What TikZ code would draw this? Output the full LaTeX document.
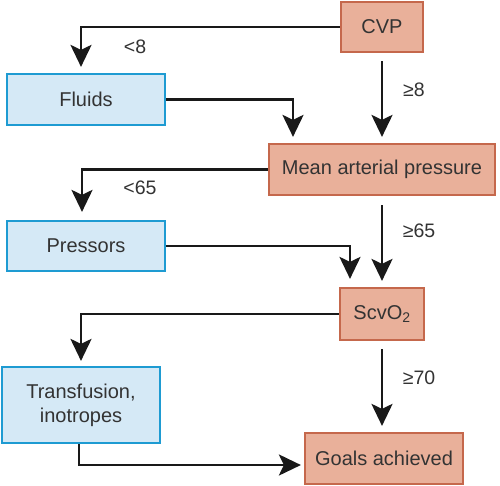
\documentclass[tikz,border=0pt]{standalone}
\usepackage{fontspec}
\setmainfont{Liberation Sans}
\usepackage{tikz}
\usetikzlibrary{arrows.meta, positioning}
\definecolor{salmonfill}{HTML}{E9B09A}
\definecolor{salmonline}{HTML}{C5684C}
\definecolor{bluefill}{HTML}{D5E9F6}
\definecolor{blueline}{HTML}{1E9BD2}
\definecolor{inkgray}{HTML}{333333}
\tikzset{
  decision/.style={rectangle, draw=salmonline, fill=salmonfill, line width=2.2pt,
                   inner sep=0pt, align=center, text=inkgray,
                   font=\fontsize{20}{24}\selectfont},
  action/.style={rectangle, draw=blueline, fill=bluefill, line width=2.2pt,
                 inner sep=0pt, align=center, text=inkgray,
                 minimum width=158pt, font=\fontsize{20}{24}\selectfont},
  arrow/.style={-{Stealth[length=22pt, width=21pt, inset=5pt]}, draw=black!90,
                line width=2.8pt},
  cond/.style={font=\fontsize{19.5}{22}\selectfont, text=inkgray, inner sep=0pt},
}
\begin{document}
\begin{tikzpicture}[x=1pt, y=-1pt]
  \useasboundingbox (0,0) rectangle (500,485);

  % Checks (right column)
  \node[decision, minimum width=82pt, minimum height=50pt] (cvp) at (382,27) {CVP};
  \node[decision, minimum width=226pt, minimum height=51pt] (map) at (382,169.5) {Mean arterial pressure};
  \node[decision, minimum width=84pt, minimum height=52pt] (scvo) at (382,314) {ScvO\textsubscript{2}};
  \node[decision, minimum width=158pt, minimum height=51pt] (goals) at (384,458.5) {Goals achieved};

  % Treatments (left column)
  \node[action, minimum height=51pt] (fluids) at (86,99.5) {Fluids};
  \node[action, minimum height=50pt] (pressors) at (86,246) {Pressors};
  \node[action, minimum height=76pt] (trans) at (81,405) {Transfusion,\\inotropes};

  % Thresholds
  \node[cond] (lt8) at (135,47) {<8};
  \node[cond] (ge8) at (414,90) {≥8};
  \node[cond] (lt65) at (140,188) {<65};
  \node[cond] (ge65) at (419,231) {≥65};
  \node[cond] (ge70) at (419,378) {≥70};

  % Edges
  \draw[arrow, shorten >=6pt] (cvp.west) -| ([xshift=-5pt]fluids.north);
  \draw[arrow, shorten <=8pt, shorten >=6pt] (cvp.south) -- (map.north);
  \draw[arrow, shorten >=6pt] (fluids.east) -| ([xshift=-89pt]map.north);

  \draw[arrow, shorten >=8pt] (map.west) -| ([xshift=-4pt]pressors.north);
  \draw[arrow, shorten <=9pt, shorten >=6pt] (map.south) -- (scvo.north);
  \draw[arrow, shorten >=8pt] (pressors.east) -| ([xshift=-32pt]scvo.north);

  \draw[arrow, shorten >=5pt] (scvo.west) -| (trans.north);
  \draw[arrow, shorten <=8pt, shorten >=6pt] (scvo.south) -- ([xshift=-2pt]goals.north);
  \draw[arrow, shorten >=3pt] ([xshift=-2pt]trans.south) |- ([yshift=-6.5pt]goals.west);

\end{tikzpicture}
\end{document}
